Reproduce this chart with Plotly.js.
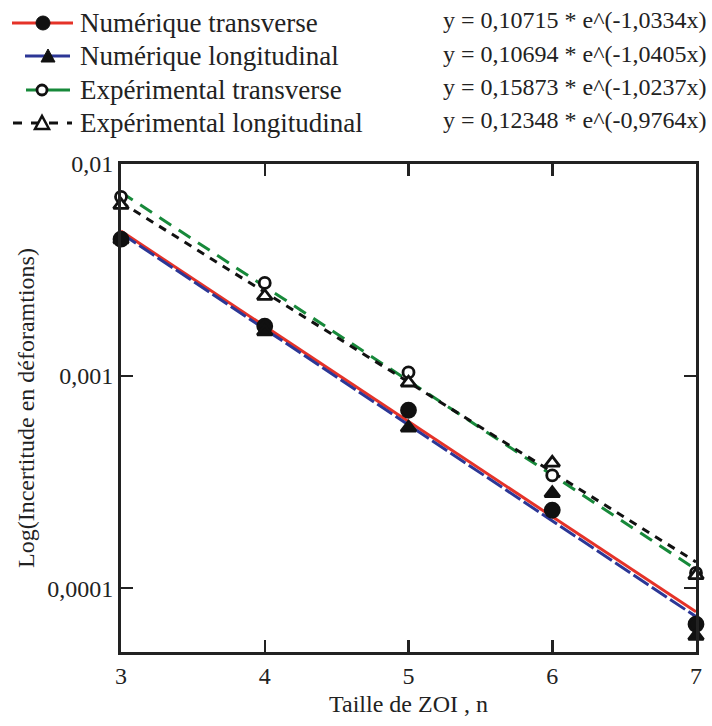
<!DOCTYPE html>
<html><head><meta charset="utf-8">
<script src="https://cdn.plot.ly/plotly-3.0.1.min.js"></script>
<style>body{margin:0;background:#fff}#c{width:712px;height:726px}</style>
</head><body><div id="c"></div>
<script>
const xPts = [3, 4, 5, 6, 7];
const numTrans = [0.00442, 0.00172, 0.00069, 0.000233, 0.0000676];
const numLong  = [0.00440, 0.00162, 0.00057, 0.00028, 0.0000595];
const expTrans = [0.0070, 0.00275, 0.00104, 0.00034, 0.000118];
const expLong  = [0.0064, 0.00238, 0.00093, 0.00039, 0.000115];
const fitX = [3, 7];
const fitNumTrans = [0.004827, 0.0000773];
const fitNumLong  = [0.004715, 0.0000734];
const fitExpTrans = [0.00736, 0.0001226];
const fitExpLong  = [0.0066, 0.0001328];
const names = ['Numérique transverse', 'Numérique longitudinal', 'Expérimental transverse', 'Expérimental longitudinal'];
const equations = ['y = 0,10715 * e^(-1,0334x)', 'y = 0,10694 * e^(-1,0405x)', 'y = 0,15873 * e^(-1,0237x)', 'y = 0,12348 * e^(-0,9764x)'];
const yTicks = [0.0001, 0.001, 0.01];
const yTickText = ['0,0001', '0,001', '0,01'];
const xTicks = [3, 4, 5, 6, 7];

const FONT = '"Liberation Serif", "Times New Roman", "DejaVu Serif", serif';
const W = 712, H = 726, ML = 121, MR = 16, MT = 164, MB = 74;
const PW = W - ML - MR, PH = H - MT - MB;
const px = v => (v - ML) / PW;       // pixel x -> paper
const py = v => (H - MB - v) / PH;   // pixel y -> paper

const colors = ['#e53228', '#2c3796', '#17893a', '#111111'];
const dashes = ['solid', '18px,4px', '14px,9px', '8px,7px'];
const symbols = ['circle', 'triangle-up', 'circle', 'triangle-up'];
const fills = ['#111', '#111', '#fff', '#fff'];
const sizes = [14, 13, 11, 13];
const pts = [numTrans, numLong, expTrans, expLong];
const fits = [fitNumTrans, fitNumLong, fitExpTrans, fitExpLong];

const traces = [];
for (let i = 0; i < 4; i++) {
  traces.push({
    x: fitX, y: fits[i], mode: 'lines', type: 'scatter', showlegend: false, hoverinfo: 'skip',
    line: {color: colors[i], width: 3, dash: dashes[i]}
  });
}
for (let i = 0; i < 4; i++) {
  traces.push({
    x: xPts, y: pts[i], type: 'scatter', mode: 'markers', name: names[i], showlegend: false,
    marker: {symbol: symbols[i], size: sizes[i], color: fills[i], line: {color: '#111', width: 2.8}},
    cliponaxis: false
  });
}

// manual legend (lines, markers, labels) in the top margin
const rowY = [23, 56, 90, 123];
const lineX = [[12, 73], [25, 70], [26, 70], [13, 72]];
const markX = [43, 48, 42, 42];
const legDash = ['solid', 'solid', 'solid', 'dash'];
const shapes = [];
for (let i = 0; i < 4; i++) {
  shapes.push({type: 'line', xref: 'paper', yref: 'paper', x0: px(lineX[i][0]), x1: px(lineX[i][1]),
    y0: py(rowY[i]), y1: py(rowY[i]), line: {color: colors[i], width: 3, dash: legDash[i]}});
}
shapes.push({type: 'circle', xref: 'paper', yref: 'paper', xsizemode: 'pixel', ysizemode: 'pixel',
  xanchor: px(markX[0]), yanchor: py(rowY[0]), x0: -7, x1: 7, y0: -7, y1: 7,
  fillcolor: '#111', line: {color: '#111', width: 1}});
shapes.push({type: 'path', xref: 'paper', yref: 'paper', xsizemode: 'pixel', ysizemode: 'pixel',
  xanchor: px(markX[1]), yanchor: py(rowY[1]), path: 'M-7,-6 L7,-6 L0,7 Z',
  fillcolor: '#111', line: {color: '#111', width: 1}});
shapes.push({type: 'circle', xref: 'paper', yref: 'paper', xsizemode: 'pixel', ysizemode: 'pixel',
  xanchor: px(markX[2]), yanchor: py(rowY[2]), x0: -5, x1: 5, y0: -5, y1: 5,
  fillcolor: '#fff', line: {color: '#111', width: 2.8}});
shapes.push({type: 'path', xref: 'paper', yref: 'paper', xsizemode: 'pixel', ysizemode: 'pixel',
  xanchor: px(markX[3]), yanchor: py(rowY[3]), path: 'M-7,-6 L7,-6 L0,7 Z',
  fillcolor: '#fff', line: {color: '#111', width: 2.5}});

const ann = [];
for (let i = 0; i < 4; i++) {
  ann.push({text: names[i], xref: 'paper', yref: 'paper', x: px(78), xanchor: 'left',
    y: py(rowY[i]), yanchor: 'middle', showarrow: false,
    font: {family: FONT, size: 27, color: '#222'}});
}
const eqY = [20, 54, 87, 120];
for (let i = 0; i < 4; i++) {
  ann.push({text: equations[i], xref: 'paper', yref: 'paper', x: px(708), xanchor: 'right',
    y: py(eqY[i]), yanchor: 'middle', showarrow: false,
    font: {family: FONT, size: 24, color: '#222'}});
}

const layout = {
  width: W, height: H,
  margin: {l: ML, r: MR, t: MT, b: MB},
  paper_bgcolor: '#fff', plot_bgcolor: '#fff',
  font: {family: FONT, size: 24, color: '#222'},
  showlegend: false,
  xaxis: {
    range: [3, 7], tickmode: 'array', tickvals: xTicks, ticks: 'inside', ticklen: 12, tickwidth: 2.5,
    tickcolor: '#222', showline: true, linecolor: '#222', linewidth: 3, mirror: 'ticks',
    showgrid: false, zeroline: false,
    title: {text: 'Taille de ZOI , n', font: {family: FONT, size: 24}, standoff: 8},
    tickfont: {family: FONT, size: 24}
  },
  yaxis: {
    type: 'log', range: [Math.log10(0.00005), -2], tickmode: 'array', tickvals: yTicks, ticktext: yTickText,
    ticks: 'inside', ticklen: 12, tickwidth: 2.5, tickcolor: '#222',
    showline: true, linecolor: '#222', linewidth: 3, mirror: 'ticks', showgrid: false, zeroline: false,
    title: {text: 'Log(Incertitude en déforamtions)', font: {family: FONT, size: 24}, standoff: 6},
    tickfont: {family: FONT, size: 24}
  },
  shapes: shapes,
  annotations: ann
};
Plotly.newPlot('c', traces, layout, {staticPlot: true});
</script></body></html>
